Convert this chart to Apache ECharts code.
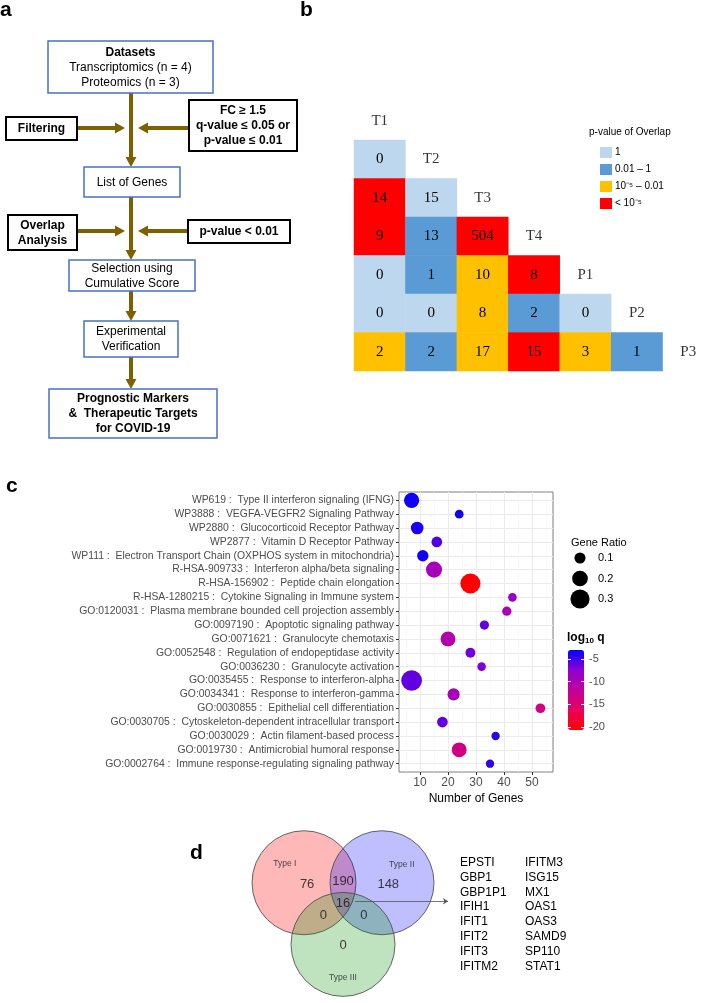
<!DOCTYPE html>
<html><head><meta charset="utf-8">
<script src="https://cdn.jsdelivr.net/npm/echarts@6/dist/echarts.min.js"></script>
<style>html,body{margin:0;padding:0;background:#fff}#main{width:714px;height:1003px}</style>
</head><body><div id="main"></div>
<script>
// ================= DATA =================
// Panel a: flowchart texts
const flowSteps = ['Datasets\nTranscriptomics (n = 4)\nProteomics (n = 3)', 'List of Genes', 'Selection using\nCumulative Score', 'Experimental\nVerification', 'Prognostic Markers\n&  Therapeutic Targets\nfor COVID-19'];
const flowInputs = ['Filtering', 'Overlap\nAnalysis'];
const flowCriteria = ['FC \u2265 1.5\nq-value \u2264 0.05 or\np-value \u2264 0.01', 'p-value < 0.01'];

// Panel b: overlap matrix (row i vs column j, j < i)
const overlapNames = ['T1', 'T2', 'T3', 'T4', 'P1', 'P2', 'P3'];
const overlapCounts = [[], [0], [14, 15], [9, 13, 504], [0, 1, 10, 8], [0, 0, 8, 2, 0], [2, 2, 17, 15, 3, 1]];
const overlapPClass = [[], [0], [3, 0], [3, 1, 3], [0, 1, 2, 3], [0, 0, 2, 1, 0], [2, 1, 2, 3, 2, 1]];
const pClassLabels = ['1', '0.01 \u2013 1', '10\u207B\u2075 \u2013 0.01', '< 10\u207B\u2075'];

// Panel c: enrichment dot plot
const terms = [
  'WP619 :  Type II interferon signaling (IFNG)',
  'WP3888 :  VEGFA-VEGFR2 Signaling Pathway',
  'WP2880 :  Glucocorticoid Receptor Pathway',
  'WP2877 :  Vitamin D Receptor Pathway',
  'WP111 :  Electron Transport Chain (OXPHOS system in mitochondria)',
  'R-HSA-909733 :  Interferon alpha/beta signaling',
  'R-HSA-156902 :  Peptide chain elongation',
  'R-HSA-1280215 :  Cytokine Signaling in Immune system',
  'GO:0120031 :  Plasma membrane bounded cell projection assembly',
  'GO:0097190 :  Apoptotic signaling pathway',
  'GO:0071621 :  Granulocyte chemotaxis',
  'GO:0052548 :  Regulation of endopeptidase activity',
  'GO:0036230 :  Granulocyte activation',
  'GO:0035455 :  Response to interferon-alpha',
  'GO:0034341 :  Response to interferon-gamma',
  'GO:0030855 :  Epithelial cell differentiation',
  'GO:0030705 :  Cytoskeleton-dependent intracellular transport',
  'GO:0030029 :  Actin filament-based process',
  'GO:0019730 :  Antimicrobial humoral response',
  'GO:0002764 :  Immune response-regulating signaling pathway'
];
const geneCounts = [7, 24, 9, 16, 11, 15, 28, 43, 41, 33, 20, 28, 32, 7, 22, 53, 18, 37, 24, 35];
const geneRatios = [0.19, 0.062, 0.13, 0.093, 0.105, 0.21, 0.33, 0.06, 0.07, 0.07, 0.18, 0.08, 0.06, 0.35, 0.12, 0.077, 0.093, 0.057, 0.18, 0.057];
const log10q = [-3.4, -3.4, -3.8, -5.5, -3.5, -9.5, -20.5, -8.5, -10, -6, -10.5, -6.5, -7, -6, -9.5, -14, -6, -4.5, -13.5, -4.5];
const geneTicks = [10, 20, 30, 40, 50];
const geneMinorTicks = [5, 15, 25, 35, 45, 55];
const ratioLegend = [0.1, 0.2, 0.3];
const qTicks = [-5, -10, -15, -20];

// Panel d: Venn diagram
const vennSets = ['Type I', 'Type II', 'Type III'];
const vennRegions = ['I only', 'I & II', 'II only', 'I & II & III', 'I & III', 'II & III', 'III only'];
const vennCounts = [76, 190, 148, 16, 0, 0, 0];
const sharedGenesA = ['EPSTI', 'GBP1', 'GBP1P1', 'IFIH1', 'IFIT1', 'IFIT2', 'IFIT3', 'IFITM2'];
const sharedGenesB = ['IFITM3', 'ISG15', 'MX1', 'OAS1', 'OAS3', 'SAMD9', 'SP110', 'STAT1'];

// ================= LAYOUT / STYLE =================
const SANS = '"Liberation Sans", Arial, sans-serif';
const SERIF = '"Liberation Serif", "Times New Roman", serif';
const ARROW = '#7F6000';
const BLUE = '#4472C4';
const pColors = ['#BDD7EE', '#5B9BD5', '#FFC000', '#FF0000'];
const qColors = ['#FF0000', '#E8005C', '#C2009D', '#8F00D3', '#0000FF'];
const sizeOf = r => Math.sqrt(r) * 35;

const mainBoxes = [{x:48,y:41,w:165,h:52},{x:84,y:167,w:96,h:30},{x:69,y:260,w:126,h:31},{x:84,y:321,w:94,h:36},{x:49,y:389,w:168,h:49}];
const inputBoxes = [{x:6,y:117,w:71,h:23},{x:8,y:215,w:69,h:35}];
const critBoxes = [{x:189,y:100,w:108,h:51},{x:188,y:220,w:102,h:23}];
const joinY = [128, 231];
const flowX = 131;

const vennCenters = [[-0.75, 0], [0.75, 0], [0, 1.23]];
const vennFills = ['rgba(255,0,0,0.28)', 'rgba(0,0,255,0.25)', 'rgba(0,140,0,0.25)'];
const vennSetLabelPos = [[-1.12, -0.38], [1.13, -0.37], [0, 1.9]];
const vennRegionPos = [[-0.69, 0.04], [0, -0.02], [0.87, 0.04], [0, 0.42], [-0.38, 0.65], [0.40, 0.65], [0, 1.25]];

// ================= GRAPHIC (flowchart, panel letters, gene list) =================
const graphic = [];
function box(b, text, opt) {
  const lines = text.split('\n');
  const rich = {
    n: {fontFamily: SANS, fontSize: 12, lineHeight: 15, color: opt.color || '#000', fontWeight: opt.bold ? 'bold' : 'normal'},
    h: {fontFamily: SANS, fontSize: 12, lineHeight: 15, color: '#000', fontWeight: 'bold'}
  };
  const t = lines.map((l, k) => (opt.boldFirst && k === 0 ? '{h|' : '{n|') + l + '}').join('\n');
  graphic.push({type: 'rect', shape: {x: b.x, y: b.y, width: b.w, height: b.h}, style: {fill: '#fff', stroke: opt.stroke, lineWidth: opt.lw}, z: 10});
  graphic.push({type: 'text', x: b.x + b.w / 2, y: b.y + b.h / 2 + 0.5, style: {text: t, rich: rich, align: 'center', verticalAlign: 'middle'}, z: 11});
}
function arrow(x1, y1, x2, y2) {
  const L = 10, W = 5.5;
  const dx = x2 - x1, dy = y2 - y1, len = Math.hypot(dx, dy), ux = dx / len, uy = dy / len;
  const bx = x2 - ux * L, by = y2 - uy * L;
  graphic.push({type: 'line', shape: {x1: x1, y1: y1, x2: bx, y2: by}, style: {stroke: ARROW, lineWidth: 4}, z: 5});
  graphic.push({type: 'polygon', shape: {points: [[x2, y2], [bx - uy * W, by + ux * W], [bx + uy * W, by - ux * W]]}, style: {fill: ARROW}, z: 5});
}
flowSteps.forEach((s, k) => box(mainBoxes[k], s, {stroke: BLUE, lw: 1.5, boldFirst: k === 0, bold: k === 4, color: k === 4 ? '#C00000' : '#000'}));
flowInputs.forEach((s, k) => box(inputBoxes[k], s, {stroke: '#000', lw: 2, bold: true}));
flowCriteria.forEach((s, k) => box(critBoxes[k], s, {stroke: '#000', lw: 2, bold: true}));
for (let k = 0; k < mainBoxes.length - 1; k++) {
  arrow(flowX, mainBoxes[k].y + mainBoxes[k].h, flowX, mainBoxes[k + 1].y);
}
joinY.forEach((y, k) => {
  arrow(inputBoxes[k].x + inputBoxes[k].w, y, flowX - 6, y);
  arrow(critBoxes[k].x, y, flowX + 7, y);
});
[['a', 0, 0], ['b', 300, 0], ['c', 6, 476], ['d', 190, 843]].forEach(p => {
  graphic.push({type: 'text', x: p[1], y: p[2], style: {text: p[0], font: 'bold 21px ' + SANS, fill: '#000'}, z: 20});
});
[sharedGenesA, sharedGenesB].forEach((col, k) => {
  graphic.push({type: 'text', x: k === 0 ? 460 : 525, y: 855, style: {text: col.join('\n'), font: '12px ' + SANS, fill: '#000', lineHeight: 14.9}, z: 20});
});

// ================= SERIES DATA =================
const heatData = [];
overlapCounts.forEach((row, i) => row.forEach((v, j) => heatData.push([j, i, v, overlapPClass[i][j]])));
const dotData = terms.map((t, i) => [geneCounts[i], i, geneRatios[i], log10q[i]]);

const option = {
  backgroundColor: '#fff',
  animation: false,
  title: [
    {text: 'p-value of Overlap', left: 589, top: 127, padding: 0, textStyle: {fontFamily: SANS, fontSize: 10, fontWeight: 'normal', color: '#000'}},
    {text: 'Gene Ratio', left: 571, top: 537, padding: 0, textStyle: {fontFamily: SANS, fontSize: 11, fontWeight: 'normal', color: '#000'}},
    {text: '{a|log}{s|10}{a| q}', left: 567, top: 631, padding: 0, textStyle: {rich: {a: {fontFamily: SANS, fontSize: 12, color: '#000'}, s: {fontFamily: SANS, fontSize: 8, color: '#000', verticalAlign: 'bottom', padding: [6, 0, 0, 0]}}}}
  ],
  graphic: graphic,
  grid: [
    {left: 354, top: 101.5, width: 380, height: 269.5},
    {left: 399, top: 492, width: 154, height: 280, show: true, borderColor: '#7f7f7f', borderWidth: 1, backgroundColor: 'rgba(0,0,0,0)'},
    {left: 568, top: 650, width: 16, height: 80},
    {left: 570, top: 547.75, width: 20, height: 61.5},
    {left: 239, top: 822.6, width: 218.4, height: 187.2}
  ],
  xAxis: [
    {gridIndex: 0, type: 'category', data: overlapNames, show: false},
    {gridIndex: 1, type: 'value', min: 2.5, max: 57.5, position: 'bottom',
      axisLine: {show: false, onZero: false},
      axisTick: {show: true, length: 3, customValues: geneTicks, lineStyle: {color: '#333'}},
      axisLabel: {customValues: geneTicks, color: '#4d4d4d', fontSize: 12, fontFamily: SANS, margin: 5},
      splitLine: {show: true, lineStyle: {color: '#ebebeb', width: 1}},
      name: 'Number of Genes', nameLocation: 'middle', nameGap: 21,
      nameTextStyle: {color: '#000', fontSize: 12, fontFamily: SANS}},
    {gridIndex: 2, type: 'value', show: false, min: 0, max: 1},
    {gridIndex: 3, type: 'value', show: false, min: -1, max: 1},
    {gridIndex: 4, type: 'value', show: false, min: -2, max: 2.2}
  ],
  yAxis: [
    {gridIndex: 0, type: 'category', data: overlapNames, inverse: true, show: false},
    {gridIndex: 1, type: 'value', min: -0.6, max: terms.length - 0.4, inverse: true,
      axisLine: {show: false, onZero: false},
      axisTick: {show: true, length: 3, customValues: terms.map((t, i) => i), lineStyle: {color: '#333'}},
      axisLabel: {customValues: terms.map((t, i) => i), formatter: v => terms[Math.round(v)], color: '#4d4d4d', fontSize: 10.4, fontFamily: SANS, margin: 5},
      splitLine: {show: true, lineStyle: {color: '#ebebeb', width: 1}}},
    {gridIndex: 2, type: 'value', min: -20.7, max: -3.0, position: 'right', z: 10,
      axisLine: {show: false, onZero: false},
      axisTick: {show: true, inside: true, length: 3, customValues: qTicks, lineStyle: {color: '#fff', width: 1}},
      axisLabel: {customValues: qTicks, color: '#4d4d4d', fontSize: 11, fontFamily: SANS, margin: 5},
      splitLine: {show: false}},
    {gridIndex: 2, type: 'value', min: -20.7, max: -3.0, position: 'left', z: 10,
      axisLine: {show: false, onZero: false}, axisLabel: {show: false},
      axisTick: {show: true, inside: true, length: 3, customValues: qTicks, lineStyle: {color: '#fff', width: 1}},
      splitLine: {show: false}},
    {gridIndex: 3, type: 'category', data: ratioLegend.map(String), inverse: true, position: 'right',
      axisLine: {show: false, onZero: false}, axisTick: {show: false},
      axisLabel: {color: '#000', fontSize: 11, fontFamily: SANS, margin: 8}},
    {gridIndex: 4, type: 'value', show: false, min: -1.2, max: 2.4, inverse: true}
  ],
  visualMap: [
    {type: 'piecewise', seriesIndex: 0, dimension: 3, left: 600, top: 147, orient: 'vertical', inverse: true, align: 'left',
      itemWidth: 12, itemHeight: 11, itemGap: 6, textGap: 3, itemSymbol: 'rect', hoverLink: false, selectedMode: false, padding: 0,
      pieces: pClassLabels.map((l, k) => ({value: k, label: l, color: pColors[k]})),
      textStyle: {fontFamily: SANS, fontSize: 10, color: '#000'}},
    {type: 'continuous', seriesIndex: 2, dimension: 3, min: -20.7, max: -3.0, left: 568, top: 650,
      itemWidth: 16, itemHeight: 80, calculable: false, hoverLink: false, padding: 0, text: null, showLabel: false,
      inRange: {color: qColors}}
  ],
  series: [
    {type: 'heatmap', xAxisIndex: 0, yAxisIndex: 0, data: heatData,
      label: {show: true, formatter: p => String(p.value[2]), fontFamily: SERIF, fontSize: 15, color: '#000'},
      emphasis: {disabled: true}},
    {type: 'scatter', xAxisIndex: 0, yAxisIndex: 0, symbolSize: 0, silent: true, z: 5,
      data: overlapNames.map((n, k) => ({value: [k, k], label: {show: true, position: 'inside', formatter: n, fontFamily: SERIF, fontSize: 15, color: '#000'}}))},
    {type: 'scatter', xAxisIndex: 1, yAxisIndex: 1, data: dotData, symbolSize: v => sizeOf(v[2]), z: 8,
      itemStyle: {opacity: 1}, emphasis: {disabled: true}},
    {type: 'scatter', xAxisIndex: 3, yAxisIndex: 4, data: ratioLegend.map((r, k) => [0, k, r]), symbolSize: v => sizeOf(v[2]),
      itemStyle: {color: '#000', opacity: 1}, emphasis: {disabled: true}},
    {type: 'scatter', xAxisIndex: 4, yAxisIndex: 5, symbolSize: 104, emphasis: {disabled: true},
      data: vennSets.map((s, k) => ({value: vennCenters[k], itemStyle: {color: vennFills[k], borderColor: '#444', borderWidth: 0.8, opacity: 1}}))},
    {type: 'scatter', xAxisIndex: 4, yAxisIndex: 5, symbolSize: 0, silent: true, z: 5,
      data: vennSets.map((s, k) => ({value: vennSetLabelPos[k], label: {show: true, position: 'inside', formatter: s, fontSize: 8.5, fontFamily: SANS, color: '#222'}}))
        .concat(vennCounts.map((c, k) => ({value: vennRegionPos[k], name: vennRegions[k], label: {show: true, position: 'inside', formatter: String(c), fontSize: 13, fontFamily: SANS, color: '#111'}})))},
    {type: 'lines', coordinateSystem: 'cartesian2d', xAxisIndex: 4, yAxisIndex: 5, z: 6,
      symbol: ['none', 'arrow'], symbolSize: 5, silent: true,
      lineStyle: {color: '#555', width: 0.8, opacity: 1},
      data: [{coords: [[0.23, 0.37], [2.02, 0.37]]}]},
    {type: 'scatter', xAxisIndex: 1, yAxisIndex: 1, data: [], z: 1, silent: true,
      markLine: {silent: true, z: 1, symbol: 'none', label: {show: false}, animation: false,
        lineStyle: {color: '#f4f4f4', width: 0.6, type: 'solid'},
        data: geneMinorTicks.map(v => ({xAxis: v}))}}
  ]
};
const chart = echarts.init(document.getElementById('main'), null, {renderer: 'canvas', width: 714, height: 1003});
chart.setOption(option);
</script>
</body></html>
